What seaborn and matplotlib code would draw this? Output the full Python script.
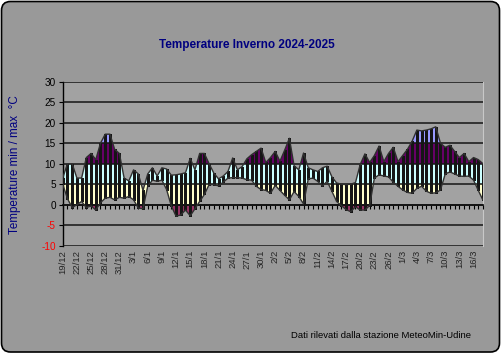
# -*- coding: utf-8 -*-
"""
Temperature Inverno 2024-2025 - min/max band chart
"""

import numpy as np
import pandas as pd
import matplotlib
matplotlib.use('Agg')
import matplotlib.pyplot as plt
import seaborn as sns
from matplotlib.patches import FancyBboxPatch
from matplotlib.transforms import IdentityTransform

# Daily max / min temperatures, 19/12/2024 -> 18/03/2025
t_max = [6.5, 10, 10, 6.5, 6.5, 11.5, 12.5, 11, 15, 17.2,
         17.2, 13.5, 12.5, 6.5, 5.8, 8.5, 7.5, 3.5, 7.5, 9,
         7, 9, 8.7, 7.2, 7.3, 7.5, 7.8, 11.3, 8.5, 12.5,
         12.5, 10, 7.7, 6.3, 7, 8.1, 11.4, 8.5, 9.3, 11.2,
         12.2, 13, 13.8, 10.3, 11.5, 13, 10.6, 13.3, 16.2, 9.5,
         8.5, 12.6, 9, 8.5, 8.1, 9, 9.4, 6.8, 5.3, 5,
         4.9, 5, 5.4, 9.8, 12.4, 10.3, 12, 14.3, 10.5, 12.5,
         14, 10.5, 12, 13.5, 15.5, 18.2, 18, 18.2, 18.5, 19,
         15, 14, 14.5, 13, 11.5, 12.5, 10.5, 11.5, 11, 10]
t_min = [5, 1.5, -0.7, 0, 0.8, -0.7, -0.3, -1.3, 0.5, 1.6,
         1.8, 1.2, 1.8, 1.6, 2, 1.2, -0.8, -1, 4.5, 6,
         5.7, 6, 3.7, -0.3, -2.8, -2.5, -1.3, -2.7, -1, 0.8,
         2.5, 4.9, 4.9, 4.6, 5.5, 6.5, 6.6, 6.6, 6.5, 6.1,
         6, 4.5, 3.7, 3.5, 2.8, 4.7, 3.5, 2.3, 1.2, 3.2,
         2, 0.2, 6.3, 6.5, 5.7, 4.6, 5.7, 3.3, 0.8, -0.2,
         -1.2, -1.7, -0.5, -1.3, -1.3, -0.2, 6.5, 7.3, 7, 6.8,
         5.5, 4.5, 3.6, 3, 2.8, 4, 4.5, 3.3, 2.8, 2.9,
         3.6, 7.5, 8, 7.5, 7, 6.9, 7, 6, 3.5, 1.1]
dates = pd.date_range('2024-12-19', periods=len(t_max))
date_labels = [f"{d.day}/{d.month}" for d in dates]

# temperature bands and their colours
band_edges = [(-10, 0), (0, 5), (5, 10), (10, 15), (15, 20), (20, 30)]
band_colors = ['#993366', '#FFFFCC', '#CCFFFF', '#660066', '#9999FF', '#CCCCFF']

sns.set_style('white')
plt.rcParams['font.family'] = ['Liberation Sans', 'DejaVu Sans']
plt.rcParams['axes.unicode_minus'] = False

fig = plt.figure(figsize=(5.03, 3.56), dpi=100, facecolor='white')
frame = FancyBboxPatch((1.5, 4), 498, 350.5, boxstyle='round,pad=0,rounding_size=9',
                       transform=IdentityTransform(), facecolor='#999999',
                       edgecolor='black', lw=1.2, zorder=0)
fig.add_artist(frame)

ax = fig.add_axes([0.1247, 0.3098, 0.8355, 0.4607])
ax.set_facecolor('#A2A2A2')

x = np.arange(len(t_max))
lo_arr = np.array(t_min, dtype=float)
hi_arr = np.array(t_max, dtype=float)
df = pd.DataFrame({'day': x, 'tmax': hi_arr, 'tmin': lo_arr})

# area between min and max, coloured by band
poly = ax.fill_between(x, lo_arr, hi_arr, facecolor='none', edgecolor='none')
clip = poly.get_paths()[0]
for (lo, hi), c in zip(band_edges, band_colors):
    span = ax.axhspan(lo, hi, color=c, lw=0, zorder=1)
    span.set_clip_path(clip, ax.transData)

# one vertical line per day inside the band
for xi, a, b in zip(x, lo_arr, hi_arr):
    ax.plot([xi, xi], [a, b], color='#151515', lw=0.9, zorder=5,
            solid_capstyle='butt', antialiased=False)

sns.lineplot(data=df, x='day', y='tmax', color='#303030', lw=1, ax=ax, zorder=6)
sns.lineplot(data=df, x='day', y='tmin', color='#303030', lw=1, ax=ax, zorder=6)

ax.set_xlim(0, len(t_max) - 1)
ax.set_ylim(-10, 30)
ax.set_yticks(range(-10, 31, 5))
ax.yaxis.grid(True, color='#151515', lw=1.1)
ax.set_axisbelow(False)
ax.set_xlabel('')
ax.set_ylabel('')

# category axis crossing at 0 with a tick each day
ax.spines['bottom'].set_position(('data', 0))
ax.spines['bottom'].set_color('black')
ax.spines['bottom'].set_linewidth(1.2)
ax.set_xticks(x)
ax.tick_params(axis='x', direction='out', length=3, width=0.8, color='black',
               labelbottom=False, bottom=True)
ax.spines['top'].set_visible(False)
ax.spines['right'].set_color('#C8C8C8')
ax.spines['right'].set_linewidth(0.8)
ax.spines['left'].set_color('black')
ax.spines['left'].set_linewidth(1)
ax.tick_params(axis='y', direction='out', length=3, width=0.8, color='black',
               labelsize=7.2, pad=2, left=True)
for lab, v in zip(ax.get_yticklabels(), ax.get_yticks()):
    lab.set_color('red' if v < 0 else 'black')

# date labels at the bottom of the plot area
secax = ax.secondary_xaxis('bottom')
secax.set_xticks(x[::3], labels=date_labels[::3])
secax.tick_params(length=0, labelsize=6.8, labelrotation=90, pad=3)
secax.spines['bottom'].set_visible(False)

fig.text(247 / 503, 1 - 45 / 356, 'Temperature Inverno 2024-2025', color='#000080',
         fontsize=8.5, fontweight='bold', ha='center', va='center')
fig.text(15 / 503, 1 - 165 / 356, 'Temperature min / max  °C', color='#000080',
         fontsize=8.4, rotation=90, ha='center', va='center')
fig.text(381 / 503, 1 - 336 / 356, 'Dati rilevati dalla stazione MeteoMin-Udine',
         color='black', fontsize=6.8, ha='center', va='center')

fig.savefig('out.png', dpi=100, facecolor=fig.get_facecolor())
plt.close(fig)
